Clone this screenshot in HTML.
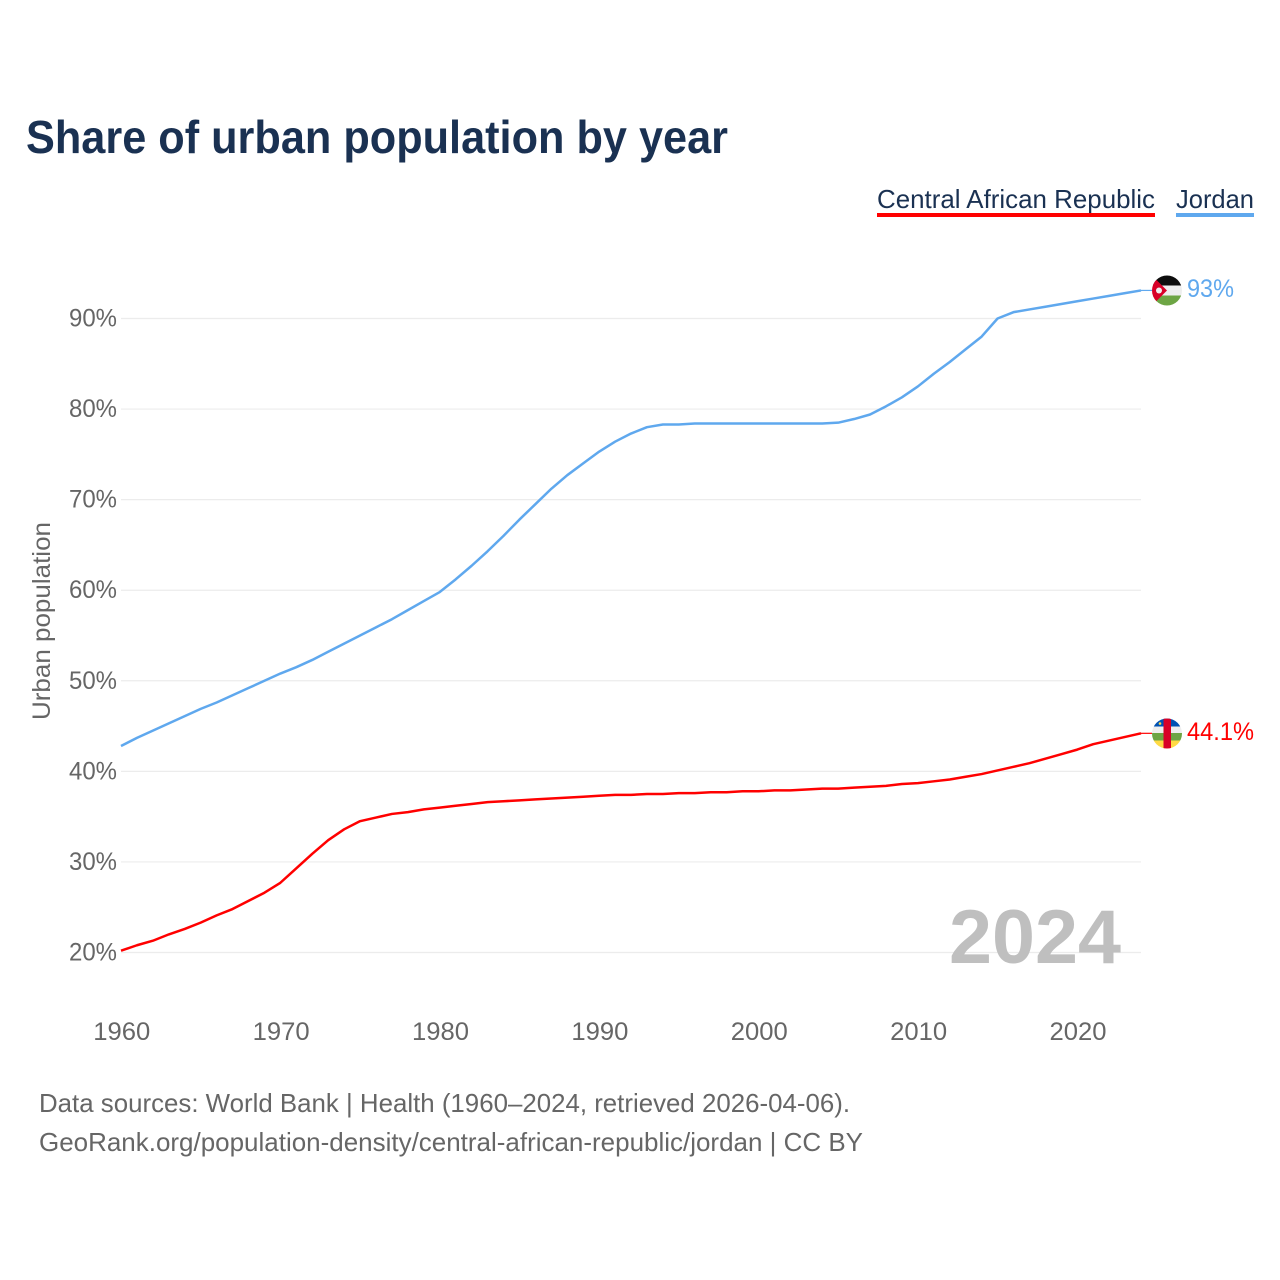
<!DOCTYPE html>
<html lang="en">
<head>
<meta charset="utf-8">
<title>Share of urban population by year</title>
<style>
html,body{margin:0;padding:0;background:#fff;}
svg{display:block;font-family:"Liberation Sans",sans-serif;}
</style>
</head>
<body>
<svg id="chart" xmlns="http://www.w3.org/2000/svg" width="1280" height="1280" viewBox="0 0 1280 1280">
  <defs>
    <clipPath id="clip-jordan"><circle cx="1167" cy="290.5" r="15"/></clipPath>
    <clipPath id="clip-car"><circle cx="1167" cy="733.5" r="15"/></clipPath>
  </defs>
  <rect width="1280" height="1280" fill="#fff"/>
  <text x="26" y="153" font-size="46" font-weight="700" fill="#1a3152" textLength="702" lengthAdjust="spacingAndGlyphs">Share of urban population by year</text>

  <g>
    <text x="877" y="208" font-size="26" fill="#1a3152" textLength="278" lengthAdjust="spacingAndGlyphs">Central African Republic</text>
    <rect x="877" y="213" width="278" height="4" fill="#ff0000"/>
  </g>
  <g>
    <text x="1176" y="208" font-size="26" fill="#1a3152" textLength="78" lengthAdjust="spacingAndGlyphs">Jordan</text>
    <rect x="1176" y="213" width="78" height="4" fill="#5fa8ee"/>
  </g>

  <g id="grid"></g>
  <g id="yticks"></g>
  <g id="xticks"></g>
  <text transform="translate(50,621) rotate(-90)" text-anchor="middle" font-size="25" fill="#666666" textLength="198" lengthAdjust="spacingAndGlyphs">Urban population</text>

  <text x="1121" y="963" text-anchor="end" font-size="76" font-weight="700" fill="#bfbfbf" textLength="172" lengthAdjust="spacingAndGlyphs">2024</text>

  <g id="series"></g>

  <g>
    <g clip-path="url(#clip-jordan)">
      <rect x="1152" y="275.5" width="30" height="10" fill="#0d0d0d"/>
      <rect x="1152" y="285.5" width="30" height="10" fill="#eeeeee"/>
      <rect x="1152" y="295.5" width="30" height="10" fill="#6da544"/>
      <polygon points="1152,275.5 1152,305.5 1167,290.5" fill="#d80027"/>
      <circle cx="1159" cy="290.5" r="3" fill="#eeeeee"/>
    </g>
  </g>
  <g>
    <g clip-path="url(#clip-car)">
      <rect x="1152" y="718.5" width="30" height="8" fill="#0052b4"/>
      <rect x="1152" y="726.5" width="30" height="6.5" fill="#eeeeee"/>
      <rect x="1152" y="733" width="30" height="7.5" fill="#6da544"/>
      <rect x="1152" y="740.5" width="30" height="8" fill="#ffda44"/>
      <rect x="1163.5" y="718.5" width="7.5" height="30" fill="#d80027"/>
      <circle cx="1160" cy="723.5" r="1.3" fill="#ffda44"/>
    </g>
  </g>
  <text id="label-jordan" x="1187" y="297" font-size="25" fill="#5fa8ee" textLength="47" lengthAdjust="spacingAndGlyphs"></text>
  <text id="label-car" x="1187" y="740" font-size="25" fill="#ff0000" textLength="67" lengthAdjust="spacingAndGlyphs"></text>

  <text x="39" y="1112" font-size="26" fill="#666666" textLength="811" lengthAdjust="spacingAndGlyphs">Data sources: World Bank | Health (1960–2024, retrieved 2026-04-06).</text>
  <text x="39" y="1151" font-size="26" fill="#666666" textLength="824" lengthAdjust="spacingAndGlyphs">GeoRank.org/population-density/central-african-republic/jordan | CC BY</text>
</svg>
<script>
const years = [1960,1961,1962,1963,1964,1965,1966,1967,1968,1969,1970,1971,1972,1973,1974,1975,1976,1977,1978,1979,1980,1981,1982,1983,1984,1985,1986,1987,1988,1989,1990,1991,1992,1993,1994,1995,1996,1997,1998,1999,2000,2001,2002,2003,2004,2005,2006,2007,2008,2009,2010,2011,2012,2013,2014,2015,2016,2017,2018,2019,2020,2021,2022,2023,2024];
const carValues = [20.2,20.8,21.3,22.0,22.6,23.3,24.1,24.8,25.7,26.6,27.7,29.3,30.9,32.4,33.6,34.5,34.9,35.3,35.5,35.8,36.0,36.2,36.4,36.6,36.7,36.8,36.9,37.0,37.1,37.2,37.3,37.4,37.4,37.5,37.5,37.6,37.6,37.7,37.7,37.8,37.8,37.9,37.9,38.0,38.1,38.1,38.2,38.3,38.4,38.6,38.7,38.9,39.1,39.4,39.7,40.1,40.5,40.9,41.4,41.9,42.4,43.0,43.4,43.8,44.2];
const jordanValues = [42.8,43.7,44.5,45.3,46.1,46.9,47.6,48.4,49.2,50.0,50.8,51.5,52.3,53.2,54.1,55.0,55.9,56.8,57.8,58.8,59.8,61.2,62.7,64.3,66.0,67.8,69.5,71.2,72.7,74.0,75.3,76.4,77.3,78.0,78.3,78.3,78.4,78.4,78.4,78.4,78.4,78.4,78.4,78.4,78.4,78.5,78.9,79.4,80.3,81.3,82.5,83.9,85.2,86.6,88.0,90.0,90.7,91.0,91.3,91.6,91.9,92.2,92.5,92.8,93.1];
const yTickValues = [20,30,40,50,60,70,80,90];
const xTickYears = [1960,1970,1980,1990,2000,2010,2020];
const carLabel = "44.1%";
const jordanLabel = "93%";

const NS = "http://www.w3.org/2000/svg";
function xScale(year){ return 121 + (year - 1960) * (1020 / 64); }
function yScale(v){ return 952.5 - (v - 20) * (634 / 70); }
function make(tag, parent, attrs){
  const el = document.createElementNS(NS, tag);
  for (const k in attrs) el.setAttribute(k, attrs[k]);
  parent.appendChild(el);
  return el;
}

const grid = document.getElementById('grid');
const yticks = document.getElementById('yticks');
const xticks = document.getElementById('xticks');
const series = document.getElementById('series');

yTickValues.forEach(function(v){
  const line = make('line', grid, {x1:121, x2:1141, y1:yScale(v), y2:yScale(v), stroke:'#ececec', 'stroke-width':1.2});
  
  
  const t = make('text', yticks, {x:117, y:yScale(v) + 8, 'text-anchor':'end', 'font-size':25, fill:'#666666', textLength:48, lengthAdjust:'spacingAndGlyphs'});
  
  
  t.textContent = v + '%';
});

xTickYears.forEach(function(y){
  const t = make('text', xticks, {x:xScale(y) + 0.8, y:1040, 'text-anchor':'middle', 'font-size':25, fill:'#666666', textLength:57, lengthAdjust:'spacingAndGlyphs'});
  
  
  t.textContent = y;
});

function drawLine(values, color, name){
  const pts = values.map(function(v, i){ return xScale(years[i]).toFixed(2) + ',' + yScale(v).toFixed(2); });
  const last = values[values.length - 1];
  const lastX = xScale(years[years.length - 1]);
  const p = make('polyline', series, {points:pts.join(' '), fill:'none', stroke:color, 'stroke-width':2.5, 'stroke-linejoin':'round'});
  
  
  const c = make('line', series, {x1:lastX, x2:lastX + 11, y1:yScale(last), y2:yScale(last), stroke:color, 'stroke-width':1.2});
  
  
}
drawLine(jordanValues, '#5fa8ee', 'jordan');
drawLine(carValues, '#ff0000', 'central-african-republic');

document.getElementById('label-jordan').textContent = jordanLabel;
document.getElementById('label-car').textContent = carLabel;
</script>
</body>
</html>
